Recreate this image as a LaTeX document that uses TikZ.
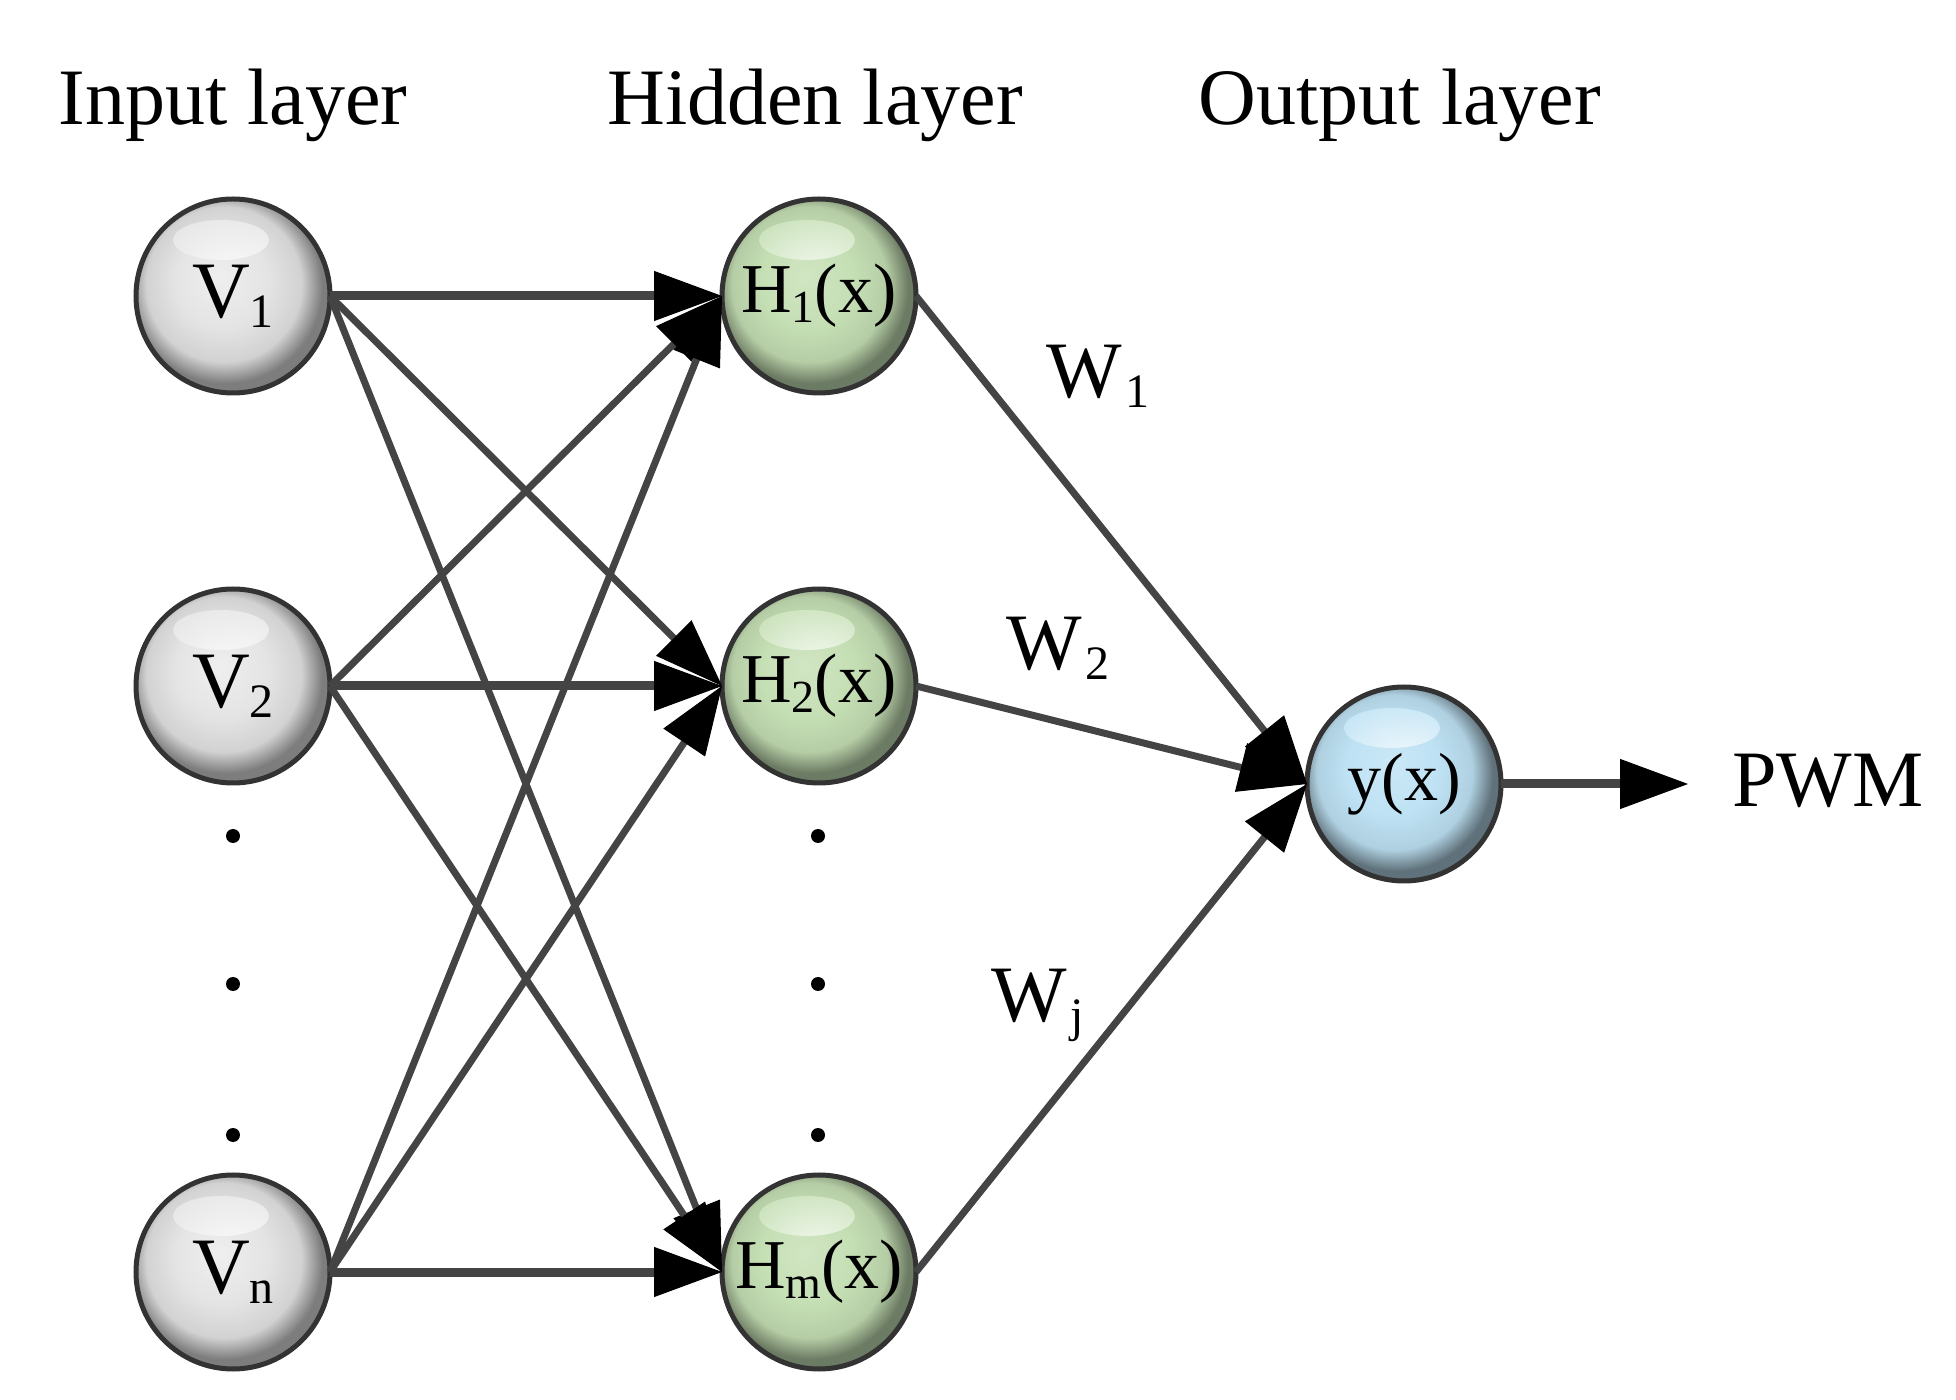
\documentclass[tikz,border=0pt]{standalone}
\usepackage{fontspec}
\setmainfont{Liberation Serif}
\usetikzlibrary{arrows.meta}
\definecolor{gcol}{HTML}{E4E4E4}
\definecolor{grcol}{HTML}{C5DFB4}
\definecolor{bcol}{HTML}{BEE2F4}
\definecolor{linec}{HTML}{444444}
\pgfdeclareradialshading{gshade}{\pgfpoint{-4bp}{5bp}}{color(0bp)=(gcol!60!white); color(12bp)=(gcol); color(20bp)=(gcol!92!black); color(25bp)=(gcol!55!black); color(50bp)=(gcol!55!black)}
\pgfdeclareradialshading{grshade}{\pgfpoint{-4bp}{5bp}}{color(0bp)=(grcol!80!white); color(12bp)=(grcol); color(20bp)=(grcol!92!black); color(25bp)=(grcol!55!black); color(50bp)=(grcol!55!black)}
\pgfdeclareradialshading{bshade}{\pgfpoint{-4bp}{5bp}}{color(0bp)=(bcol!80!white); color(12bp)=(bcol); color(20bp)=(bcol!92!black); color(25bp)=(bcol!50!black); color(50bp)=(bcol!50!black)}
\newcommand{\mysubA}[1]{\raisebox{-5pt}{\fontsize{24}{24}\selectfont #1}}
\newcommand{\mysubB}[1]{\raisebox{-5pt}{\fontsize{23}{23}\selectfont #1}}
\tikzset{
  neuron/.style={circle, minimum size=97pt, inner sep=0pt, outer sep=0pt,
    draw=black!80, line width=2.5pt, shade},
  ball/.style={neuron, shading=#1shade,
    path picture={\shade[inner color=white, outer color=#1col]
      ([xshift=-6pt,yshift=28pt]path picture bounding box.center) ellipse (24pt and 10pt);}},
  innode/.style={ball=g, font=\fontsize{40}{40}\selectfont},
  hidnode/.style={ball=gr, font=\fontsize{35}{35}\selectfont},
  outnode/.style={ball=b, font=\fontsize{34}{34}\selectfont},
  bigtext/.style={inner sep=0pt, outer sep=0pt, font=\fontsize{40}{40}\selectfont},
  dotn/.style={circle, fill=black, inner sep=0pt, minimum size=7pt},
  tip/.style={-{Triangle[length=34pt,width=25pt,line width=0.5pt,color=black]}},
  conn/.style={draw=linec, line width=3.5pt, tip},
  hconn/.style={draw=linec, line width=4.5pt, tip}
}
\begin{document}
\begin{tikzpicture}[x=0.5pt, y=-0.5pt]
\fill[white] (0,0) rectangle (1956,1400);
\useasboundingbox (0,0) rectangle (1956,1400);

% titles
\node[bigtext, anchor=base] (tin)  at (233,125)  {Input layer};
\node[bigtext, anchor=base] (thid) at (815,125)  {Hidden layer};
\node[bigtext, anchor=base] (tout) at (1400,125) {Output layer};

% input nodes
\node[innode] (v1) at (233,296)  {V\mysubA{1}};
\node[innode] (v2) at (233,686)  {V\mysubA{2}};
\node[innode] (vn) at (233,1272) {V\mysubA{n}};

% hidden nodes
\node[hidnode] (h1) at (819,296)  {H\mysubB{1}(x)};
\node[hidnode] (h2) at (819,686)  {H\mysubB{2}(x)};
\node[hidnode] (hm) at (819,1272) {H\mysubB{m}(x)};

% output node
\node[outnode] (y) at (1404,784) {y(x)};

% dots
\node[dotn] (dv1) at (233,836)  {};
\node[dotn] (dv2) at (233,984)  {};
\node[dotn] (dv3) at (233,1135) {};
\node[dotn] (dh1) at (818,836)  {};
\node[dotn] (dh2) at (818,984)  {};
\node[dotn] (dh3) at (818,1135) {};

% weights
\node[bigtext, anchor=base west] (w1) at (1046,398)  {W\hspace{2pt}\mysubA{1}};
\node[bigtext, anchor=base west] (w2) at (1006,670)  {W\hspace{2pt}\mysubA{2}};
\node[bigtext, anchor=base west] (wj) at (991,1022)  {W\hspace{2pt}\mysubA{j}};

% output label
\node[bigtext, anchor=base west] (pwm) at (1732,807) {PWM};
\coordinate (pwmtip) at (1688,784);

% connections input -> hidden
\draw[hconn] (v1.east) -- (h1.west);
\draw[hconn] (v2.east) -- (h2.west);
\draw[hconn] (vn.east) -- (hm.west);
\draw[conn] (v1.east) -- (h2.west);
\draw[conn] (v1.east) -- (hm.west);
\draw[conn] (v2.east) -- (h1.west);
\draw[conn] (v2.east) -- (hm.west);
\draw[conn] (vn.east) -- (h1.west);
\draw[conn] (vn.east) -- (h2.west);

% hidden -> output
\draw[conn] (h1.east) -- (y.west);
\draw[conn] (h2.east) -- (y.west);
\draw[conn] (hm.east) -- (y.west);

% output
\draw[hconn] (y.east) -- (pwmtip);
\end{tikzpicture}
\end{document}
